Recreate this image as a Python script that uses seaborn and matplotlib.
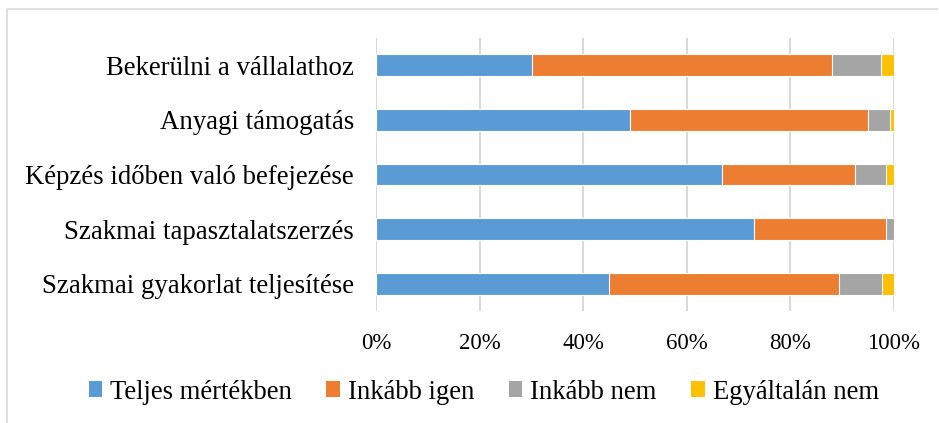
import numpy as np
import pandas as pd
import seaborn as sns
import matplotlib.pyplot as plt
from matplotlib.patches import Patch
from matplotlib.lines import Line2D
from matplotlib.ticker import PercentFormatter

categories = ["Bekerülni a vállalathoz", "Anyagi támogatás",
              "Képzés időben való befejezése", "Szakmai tapasztalatszerzés",
              "Szakmai gyakorlat teljesítése"]
series = ["Teljes mértékben", "Inkább igen", "Inkább nem", "Egyáltalán nem"]
teljes = [30.1, 49.1, 66.7, 72.9, 45.0]
inkabb_igen = [57.9, 45.8, 25.7, 25.5, 44.3]
inkabb_nem = [9.5, 4.3, 6.0, 1.6, 8.3]
egyaltalan = [2.5, 0.8, 1.6, 0.0, 2.4]
colors = ["#5B9BD5", "#ED7D31", "#A5A5A5", "#FFC000"]

df = pd.DataFrame({'Kategória': categories,
                   series[0]: teljes, series[1]: inkabb_igen,
                   series[2]: inkabb_nem, series[3]: egyaltalan})
cum = df[series].cumsum(axis=1)

sns.set_style("white")
plt.rcParams['font.family'] = ['Liberation Serif', 'DejaVu Serif']
plt.rcParams['text.color'] = 'black'

fig = plt.figure(figsize=(9.39, 4.23), dpi=100, facecolor='white', edgecolor='none')
ax = fig.add_axes([376 / 939, 1 - 311 / 423, (894 - 376) / 939, (311 - 38) / 423])

# stacked bars: draw cumulative totals from the longest down
for s, c in reversed(list(zip(series, colors))):
    sns.barplot(x=cum[s], y=df['Kategória'], orient='h', color=c, width=0.4,
                saturation=1, edgecolor='white', linewidth=0.8, ax=ax, zorder=3)

ax.set_xlim(0, 100)
ax.set_xticks([0, 20, 40, 60, 80, 100])
ax.xaxis.set_major_formatter(PercentFormatter(decimals=0))
ax.grid(axis='x', color='#D9D9D9', linewidth=1.5, zorder=0)
ax.set_axisbelow(True)
for sp in ['top', 'right', 'bottom', 'left']:
    ax.spines[sp].set_visible(False)
ax.set_xlabel('')
ax.set_ylabel('')
ax.tick_params(axis='both', length=0, colors='black')
ax.tick_params(axis='y', pad=16, labelsize=19.3)
ax.tick_params(axis='x', pad=16, labelsize=16.5)

handles = [Patch(facecolor=c, edgecolor='none') for c in colors]
fig.legend(handles, series, loc='center', bbox_to_anchor=(0.515, 1 - 392 / 423),
           ncol=4, frameon=False, fontsize=19.2, handlelength=0.5, handleheight=0.5,
           handletextpad=0.3, columnspacing=1.3, labelcolor='black')

# outer chart frame (only top and left edges are inside the picture)
fig.add_artist(Line2D([7 / 939, 0.999], [1 - 9 / 423, 1 - 9 / 423], transform=fig.transFigure,
                      color='#D9D9D9', linewidth=1.2, solid_capstyle='butt'))
fig.add_artist(Line2D([7 / 939, 7 / 939], [0.0, 1 - 9 / 423], transform=fig.transFigure,
                      color='#D9D9D9', linewidth=1.2, solid_capstyle='butt'))

fig.savefig('out.png', dpi=100, facecolor='white', edgecolor='none')
